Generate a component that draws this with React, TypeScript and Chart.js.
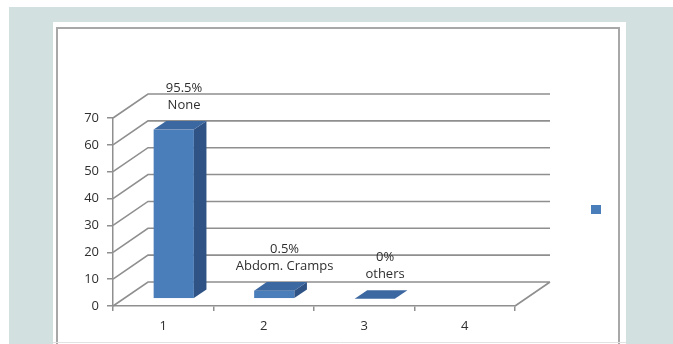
import React, { useEffect, useRef } from 'react';
import { Chart, registerables } from 'chart.js';

Chart.register(...registerables);

// Chart values
const categories = ['1', '2', '3', '4'];
const counts: (number | null)[] = [63, 3, 0, null];
const percentLabels = ['95.5%', '0.5%', '0%', ''];
const groupLabels = ['None', 'Abdom. Cramps', 'others', ''];
const yMin = 0;
const yMax = 70;
const yStep = 10;

// Canvas and styling
const W = 673;
const H = 344;
const FONT = '"Open Sans", "DejaVu Sans", sans-serif';
const TEXT = '#2f2f2f';
const GRID = '#8f8f8f';
const FACE = '#4a7ebb';
const TOP_FACE = '#3c68a1';
const SIDE_FACE = '#2f5384';
// Depth vector of the 3-D box (front plane -> back wall)
const DEPTH = { x: 35, y: -24 };
// Bars sit between these fractions of the depth
const BAR_NEAR = 0.3;
const BAR_FAR = 0.66;

const framePlugin = {
  id: 'frame',
  beforeDraw(chart: Chart) {
    const ctx = chart.ctx;
    ctx.save();
    ctx.fillStyle = '#ffffff';
    ctx.fillRect(0, 0, W, H);
    ctx.fillStyle = '#d2e1e0';
    ctx.fillRect(9, 7, W - 9, H - 7);
    ctx.fillStyle = '#ffffff';
    ctx.fillRect(53, 22, 573, H - 22);
    ctx.strokeStyle = '#a8a8a8';
    ctx.lineWidth = 2;
    ctx.strokeRect(57, 28, 562, 400);
    ctx.strokeStyle = '#e2e2e2';
    ctx.lineWidth = 1;
    ctx.beginPath();
    ctx.moveTo(53, 342.5);
    ctx.lineTo(626, 342.5);
    ctx.stroke();
    // legend marker
    ctx.fillStyle = FACE;
    ctx.fillRect(591, 205, 10, 9);
    ctx.restore();
  },
};

const wallsPlugin = {
  id: 'walls',
  beforeDatasetsDraw(chart: Chart) {
    const { ctx, chartArea: a } = chart;
    const ys = chart.scales.y;
    ctx.save();
    ctx.strokeStyle = GRID;
    ctx.lineWidth = 1.6;
    ctx.beginPath();
    ys.ticks.forEach((t) => {
      const fy = ys.getPixelForValue(t.value);
      ctx.moveTo(a.left, fy);
      ctx.lineTo(a.left + DEPTH.x, fy + DEPTH.y);
      ctx.lineTo(a.right + DEPTH.x, fy + DEPTH.y);
    });
    // right edge of the floor
    ctx.moveTo(a.right, a.bottom);
    ctx.lineTo(a.right + DEPTH.x, a.bottom + DEPTH.y);
    ctx.stroke();
    ctx.restore();
  },
};

const barsPlugin = {
  id: 'bars3d',
  afterDatasetsDraw(chart: Chart) {
    const { ctx } = chart;
    const meta = chart.getDatasetMeta(0);
    const nx = DEPTH.x * BAR_NEAR;
    const ny = DEPTH.y * BAR_NEAR;
    const dx = DEPTH.x * (BAR_FAR - BAR_NEAR);
    const dy = DEPTH.y * (BAR_FAR - BAR_NEAR);
    ctx.save();
    meta.data.forEach((el: any, i: number) => {
      if (counts[i] == null) return;
      const { x, y, base, width } = el.getProps(['x', 'y', 'base', 'width'], true);
      const l = x - width / 2 + nx;
      const r = x + width / 2 + nx;
      const t = y + ny;
      const b = base + ny;
      // front face
      ctx.fillStyle = FACE;
      ctx.fillRect(l, t, r - l, b - t);
      // side face
      ctx.fillStyle = SIDE_FACE;
      ctx.beginPath();
      ctx.moveTo(r, t);
      ctx.lineTo(r + dx, t + dy);
      ctx.lineTo(r + dx, b + dy);
      ctx.lineTo(r, b);
      ctx.closePath();
      ctx.fill();
      // top face
      ctx.fillStyle = TOP_FACE;
      ctx.beginPath();
      ctx.moveTo(l, t);
      ctx.lineTo(l + dx, t + dy);
      ctx.lineTo(r + dx, t + dy);
      ctx.lineTo(r, t);
      ctx.closePath();
      ctx.fill();

      // data labels above the bar
      const cx = (l + r + dx) / 2 + 4;
      const cy = t + dy / 2;
      ctx.fillStyle = TEXT;
      ctx.font = `13px ${FONT}`;
      ctx.textAlign = 'center';
      ctx.textBaseline = 'middle';
      ctx.fillText(groupLabels[i], cx, cy - 20);
      ctx.fillText(percentLabels[i], cx, cy - 37);
    });
    ctx.restore();
  },
};

export default function App() {
  const ref = useRef<HTMLCanvasElement>(null);

  useEffect(() => {
    const chart = new Chart(ref.current as HTMLCanvasElement, {
      type: 'bar',
      data: {
        labels: categories,
        datasets: [
          {
            label: '',
            data: counts,
            backgroundColor: 'rgba(0,0,0,0)',
            borderWidth: 0,
            barPercentage: 0.4,
            categoryPercentage: 1,
          },
        ],
      },
      options: {
        responsive: false,
        animation: false,
        devicePixelRatio: 1,
        events: [],
        layout: { padding: { left: 60, right: 158, top: 118, bottom: 0 } },
        plugins: {
          legend: { display: false },
          tooltip: { enabled: false },
        },
        scales: {
          x: {
            grid: {
              offset: true,
              drawOnChartArea: false,
              drawTicks: true,
              tickLength: 5,
              color: GRID,
              lineWidth: 1.5,
            },
            border: { display: true, color: GRID, width: 1.5 },
            ticks: { color: TEXT, font: { family: FONT, size: 13 }, padding: 7 },
            afterFit(scale: any) {
              scale.height = 38;
            },
          },
          y: {
            min: yMin,
            max: yMax,
            grid: {
              drawOnChartArea: false,
              drawTicks: true,
              tickLength: 6,
              color: GRID,
              lineWidth: 1.5,
            },
            border: { display: true, color: GRID, width: 1.5 },
            ticks: {
              stepSize: yStep,
              color: TEXT,
              font: { family: FONT, size: 13 },
              padding: 8,
            },
            afterFit(scale: any) {
              scale.width = 53;
            },
          },
        },
      },
      plugins: [framePlugin, wallsPlugin, barsPlugin],
    });
    return () => chart.destroy();
  }, []);

  return (
    <canvas
      ref={ref}
      width={W}
      height={H}
      style={{ position: 'fixed', left: 0, top: 0, width: W, height: H, display: 'block' }}
    />
  );
}
